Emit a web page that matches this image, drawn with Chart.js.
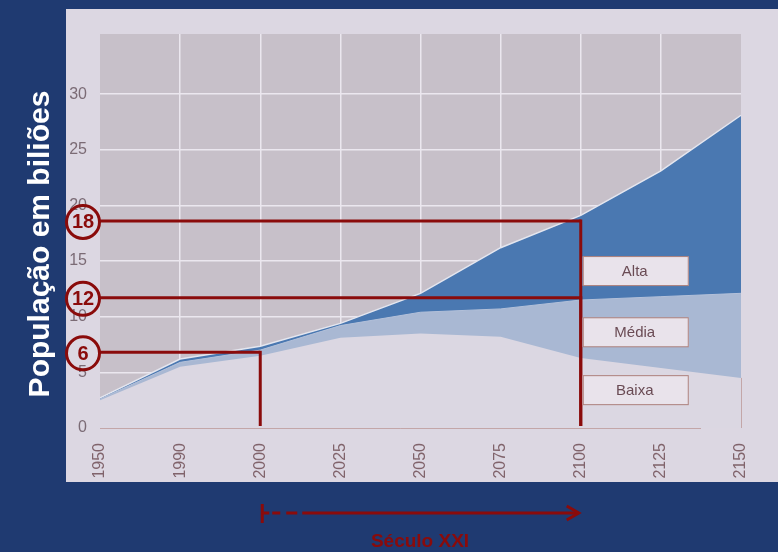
<!DOCTYPE html>
<html lang="pt">
<head>
<meta charset="UTF-8">
<title>População em biliões</title>
<style>
  html, body { margin: 0; padding: 0; background: #1f3a71; }
  canvas { display: block; }
</style>
</head>
<body>
<canvas id="myChart" width="778" height="552"></canvas>
<script src="https://cdn.jsdelivr.net/npm/chart.js"></script>
<script>
const years = ['1950', '1990', '2000', '2025', '2050', '2075', '2100', '2125', '2150'];
const alta  = [2.7, 6.2, 7.35, 9.4, 12.1, 16.2, 19.1, 23.1, 28.1];
const media = [2.6, 5.9, 7.0, 9.2, 10.4, 10.7, 11.5, 11.8, 12.1];
const baixa = [2.5, 5.5, 6.5, 8.1, 8.5, 8.2, 6.3, 5.4, 4.5];
const yTicks = [0, 5, 10, 15, 20, 25, 30];

// red markers: label, value, year where the line turns down
const markLabels = ['18', '12', '6'];
const markValues = [18.6, 11.7, 6.8];
const markYears  = ['2100', '2100', '2000'];

// boxes naming the three variants
const boxLabels = ['Alta', 'Média', 'Baixa'];
const boxValues = [14.1, 8.6, 3.4];

const RED = '#8a0b0b';
const FONT = '"Liberation Sans", Arial, sans-serif';

const paperPlugin = {
    id: 'paper',
    beforeDraw(chart) {
        const { ctx, chartArea: a, width, height } = chart;
        ctx.save();
        ctx.fillStyle = '#1f3a71';
        ctx.fillRect(0, 0, width, height);
        ctx.fillStyle = '#dcd7e2';
        ctx.fillRect(66, 9, width - 66, 473);
        ctx.fillStyle = '#c7c0c9';
        ctx.fillRect(a.left, a.top, a.right - a.left, a.bottom - a.top);
        ctx.restore();
    },
    afterDraw(chart) {
        const { ctx, chartArea: a, scales } = chart;
        const x = scales.x, y = scales.y;
        const y0 = y.getPixelForValue(0);
        ctx.save();

        // faint axis lines
        ctx.strokeStyle = 'rgba(175,125,120,0.55)';
        ctx.lineWidth = 1;
        ctx.beginPath();
        ctx.moveTo(a.left, y0 + 0.5);
        ctx.lineTo(a.right - 40, y0 + 0.5);
        ctx.moveTo(a.right + 0.5, y.getPixelForValue(4.5));
        ctx.lineTo(a.right + 0.5, y0);
        ctx.stroke();

        // red markers
        ctx.strokeStyle = RED;
        ctx.fillStyle = RED;
        ctx.lineWidth = 3;
        const r = 16.5;
        const cx = a.left - 17;
        markLabels.forEach((lab, i) => {
            const py = y.getPixelForValue(markValues[i]);
            const px = x.getPixelForValue(years.indexOf(markYears[i]));
            ctx.beginPath();
            ctx.moveTo(cx + r, py);
            ctx.lineTo(px, py);
            ctx.stroke();
            ctx.beginPath();
            ctx.moveTo(px, py - 1.5);
            ctx.lineTo(px, y0 - 2);
            ctx.stroke();
            ctx.beginPath();
            ctx.arc(cx, py + 1, r, 0, Math.PI * 2);
            ctx.stroke();
            ctx.font = 'bold 20px ' + FONT;
            ctx.textAlign = 'center';
            ctx.textBaseline = 'middle';
            ctx.fillText(lab, cx, py + 2);
        });

        // variant boxes
        const bx = x.getPixelForValue(years.indexOf('2100')) + 2;
        boxLabels.forEach((lab, i) => {
            const cy = y.getPixelForValue(boxValues[i]);
            ctx.fillStyle = '#e9e3eb';
            ctx.fillRect(bx, cy - 14.5, 106, 29);
            ctx.strokeStyle = '#ad807c';
            ctx.lineWidth = 1;
            ctx.strokeRect(bx + 0.5, cy - 14.5, 105, 29);
            ctx.fillStyle = '#6a4b54';
            ctx.font = '15px ' + FONT;
            ctx.textAlign = 'center';
            ctx.textBaseline = 'middle';
            ctx.fillText(lab, bx + 52, cy + 1);
        });

        // y title
        ctx.save();
        ctx.translate(49, 244);
        ctx.rotate(-Math.PI / 2);
        ctx.fillStyle = '#ffffff';
        ctx.font = 'bold 30px ' + FONT;
        ctx.textAlign = 'center';
        ctx.textBaseline = 'alphabetic';
        ctx.fillText('População em biliões', 0, 0);
        ctx.restore();

        // century arrow
        const xa = x.getPixelForValue(years.indexOf('2000')) + 2;
        const xb = x.getPixelForValue(years.indexOf('2100')) - 2;
        const ya = 513;
        ctx.strokeStyle = RED;
        ctx.lineWidth = 3;
        ctx.beginPath();
        ctx.moveTo(xa, ya - 9);
        ctx.lineTo(xa, ya + 10);
        ctx.stroke();
        ctx.beginPath();
        ctx.moveTo(xa, ya); ctx.lineTo(xa + 7, ya);
        ctx.moveTo(xa + 10, ya); ctx.lineTo(xa + 18, ya);
        ctx.moveTo(xa + 24, ya); ctx.lineTo(xa + 35, ya);
        ctx.moveTo(xa + 40, ya); ctx.lineTo(xb, ya);
        ctx.stroke();
        ctx.beginPath();
        ctx.moveTo(xb - 12, ya - 7);
        ctx.lineTo(xb, ya);
        ctx.lineTo(xb - 12, ya + 7);
        ctx.stroke();

        ctx.fillStyle = RED;
        ctx.font = 'bold 19px ' + FONT;
        ctx.textAlign = 'center';
        ctx.textBaseline = 'alphabetic';
        ctx.fillText('Século XXI', 420, 547);
        ctx.restore();
    }
};

const data = {
    labels: years,
    datasets: [{
        label: 'Alta',
        data: alta,
        backgroundColor: '#4a78b1',
        borderColor: '#e4e6ef',
        borderWidth: 1.5,
        fill: 'origin',
        order: 3
    }, {
        label: 'Média',
        data: media,
        backgroundColor: '#a9b8d3',
        borderColor: '#b3c0d9',
        borderWidth: 1,
        fill: 'origin',
        order: 2
    }, {
        label: 'Baixa',
        data: baixa,
        backgroundColor: '#dbd7e2',
        borderColor: '#dbd7e2',
        borderWidth: 0,
        fill: 'origin',
        order: 1
    }]
};

const config = {
    type: 'line',
    data: data,
    plugins: [paperPlugin],
    options: {
        responsive: false,
        devicePixelRatio: 1,
        animation: false,
        layout: { padding: { left: 0, top: 34, right: 37, bottom: 0 } },
        elements: { point: { radius: 0 }, line: { tension: 0 } },
        plugins: { legend: { display: false }, tooltip: { enabled: false } },
        scales: {
            x: {
                offset: false,
                afterFit: (s) => { s.height = 124; },
                border: { display: false },
                grid: {
                    drawTicks: false,
                    lineWidth: 1.5,
                    color: (c) => (c.index === 0 || c.index === years.length - 1) ? 'rgba(0,0,0,0)' : '#ebe7ef'
                },
                ticks: {
                    autoSkip: false,
                    maxRotation: 90,
                    minRotation: 90,
                    padding: 15,
                    color: '#80636b',
                    font: { family: FONT, size: 16 }
                }
            },
            y: {
                min: 0,
                max: 35.4,
                afterFit: (s) => { s.width = 100; },
                afterBuildTicks: (s) => { s.ticks = yTicks.map(v => ({ value: v })); },
                border: { display: false },
                grid: {
                    drawTicks: false,
                    lineWidth: 1.5,
                    color: (c) => c.tick && c.tick.value === 0 ? 'rgba(0,0,0,0)' : '#ebe7ef'
                },
                ticks: {
                    padding: 13,
                    color: '#7b6b75',
                    font: { family: FONT, size: 16 }
                }
            }
        }
    }
};

const myChart = new Chart(document.getElementById('myChart'), config);
</script>
</body>
</html>
